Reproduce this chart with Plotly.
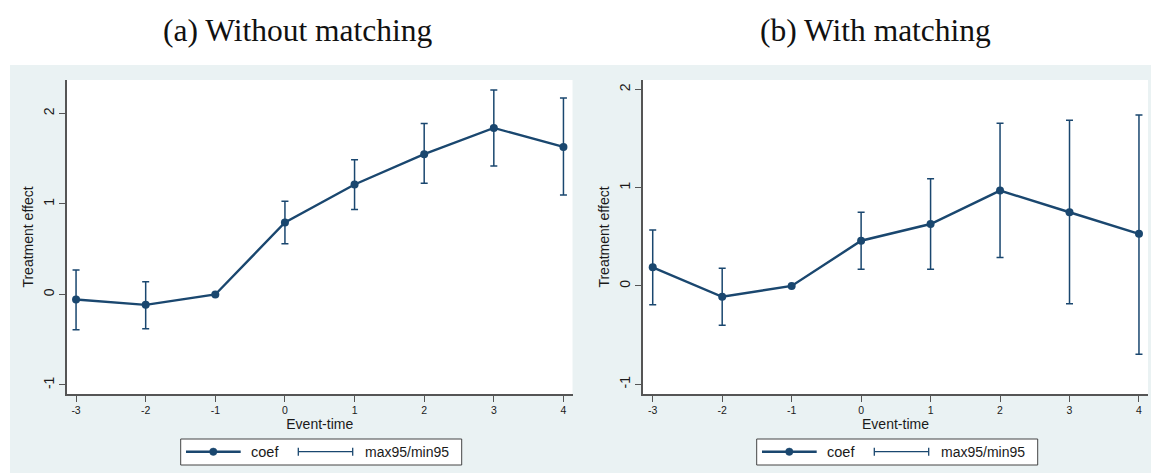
import plotly.graph_objects as go

# ---------------- data ----------------
event_time = [-3, -2, -1, 0, 1, 2, 3, 4]

coef_a = [-0.055, -0.115, 0.0, 0.795, 1.215, 1.55, 1.84, 1.63]
ci_hi_a = [0.27, 0.14, None, 1.03, 1.49, 1.89, 2.26, 2.17]
ci_lo_a = [-0.39, -0.38, None, 0.56, 0.94, 1.23, 1.42, 1.10]

coef_b = [0.19, -0.11, 0.0, 0.46, 0.63, 0.97, 0.75, 0.53]
ci_hi_b = [0.57, 0.18, None, 0.75, 1.09, 1.655, 1.685, 1.74]
ci_lo_b = [-0.19, -0.40, None, 0.17, 0.17, 0.29, -0.18, -0.695]

panel_titles = ["(a) Without matching", "(b) With matching"]
x_ticks = [-3, -2, -1, 0, 1, 2, 3, 4]
x_ticklabels = ["-3", "-2", "-1", "0", "1", "2", "3", "4"]
y_ticks = [-1, 0, 1, 2]
y_ticklabels = ["-1", "0", "1", "2"]
x_title = "Event-time"
y_title = "Treatment effect"
legend_labels = ["coef", "max95/min95"]

# ---------------- styles ----------------
W, H = 1151, 473
NAVY = "#1a476f"
BG = "#eaf2f3"
AXIS = "#555555"
TXT = "#1a1a1a"
SANS = "Liberation Sans, Arial, sans-serif"
SERIF = "Liberation Serif, Times New Roman, serif"


def px(x):
    return x / W


def py(y):
    return 1 - y / H


panels = [
    dict(coef=coef_a, hi=ci_hi_a, lo=ci_lo_a, x0=67, x1=572.5,
         xr=[-3.13, 4.13], yr=[-1.10, 2.37], title_cx=298, leg_dx=0),
    dict(coef=coef_b, hi=ci_hi_b, lo=ci_lo_b, x0=643, x1=1148,
         xr=[-3.14, 4.13], yr=[-1.099, 2.095], title_cx=875, leg_dx=576),
]
PLOT_TOP, PLOT_BOT = 80, 394

fig = go.Figure()
shapes = [dict(type="rect", xref="paper", yref="paper", x0=px(10), x1=1,
               y0=0, y1=py(65), fillcolor=BG, line=dict(width=0), layer="below")]
annotations = []

for i, p in enumerate(panels):
    k = "" if i == 0 else str(i + 1)
    err_up = [h - c if h is not None else None for h, c in zip(p["hi"], p["coef"])]
    err_dn = [c - l if l is not None else None for l, c in zip(p["lo"], p["coef"])]
    fig.add_trace(go.Scatter(
        x=event_time, y=p["coef"], mode="lines+markers", name=legend_labels[0],
        line=dict(color=NAVY, width=2.4), marker=dict(color=NAVY, size=8),
        error_y=dict(type="data", array=err_up, arrayminus=err_dn, symmetric=False,
                     color=NAVY, thickness=1.5, width=3.5),
        xaxis="x" + k, yaxis="y" + k, showlegend=False))

    fig.update_layout(**{
        "xaxis" + k: dict(domain=[px(p["x0"]), px(p["x1"])], range=p["xr"],
                          anchor="y" + k, tickvals=x_ticks, ticktext=x_ticklabels,
                          ticks="outside",
                          ticklen=6, tickcolor=AXIS, tickwidth=1, showline=True,
                          linecolor=AXIS, linewidth=1.5, showgrid=False, zeroline=False,
                          tickfont=dict(family=SANS, size=10.5, color=TXT),
                          title=dict(text=x_title, font=dict(family=SANS, size=14, color=TXT),
                                     standoff=0)),
        "yaxis" + k: dict(domain=[py(PLOT_BOT), py(PLOT_TOP)], range=p["yr"],
                          anchor="x" + k, tickvals=y_ticks, ticktext=y_ticklabels,
                          ticks="outside",
                          ticklen=6, tickcolor=AXIS, tickwidth=1, showline=True,
                          linecolor=AXIS, linewidth=1.5, showgrid=False, zeroline=False,
                          tickangle=-90,
                          tickfont=dict(family=SANS, size=14, color=TXT),
                          title=dict(text=y_title, font=dict(family=SANS, size=14, color=TXT),
                                     standoff=4)),
    })

    # white plot region
    shapes.append(dict(type="rect", xref="paper", yref="paper",
                       x0=px(p["x0"]), x1=px(p["x1"]), y0=py(PLOT_BOT), y1=py(PLOT_TOP),
                       fillcolor="white", line=dict(width=0), layer="below"))

    # panel title
    annotations.append(dict(text=panel_titles[i], x=px(p["title_cx"]), y=py(31),
                            xref="paper", yref="paper", showarrow=False,
                            xanchor="center", yanchor="middle",
                            font=dict(family=SERIF, size=31.5, color="#111111")))

    # legend box
    d = p["leg_dx"]
    ly = 451.7
    shapes.append(dict(type="rect", xref="paper", yref="paper",
                       x0=px(180.7 + d), x1=px(461.7 + d), y0=py(465), y1=py(439),
                       fillcolor="white", line=dict(color="#444444", width=1), layer="above"))
    shapes.append(dict(type="line", xref="paper", yref="paper",
                       x0=px(186 + d), x1=px(240.7 + d), y0=py(ly), y1=py(ly),
                       line=dict(color=NAVY, width=2.4), layer="above"))
    r = 3.7
    shapes.append(dict(type="circle", xref="paper", yref="paper",
                       x0=px(213.3 + d - r), x1=px(213.3 + d + r),
                       y0=py(ly + r), y1=py(ly - r),
                       fillcolor=NAVY, line=dict(color=NAVY, width=0.5), layer="above"))
    shapes.append(dict(type="line", xref="paper", yref="paper",
                       x0=px(298.3 + d), x1=px(352.7 + d), y0=py(ly), y1=py(ly),
                       line=dict(color=NAVY, width=1.3), layer="above"))
    for cx in (298.3, 352.7):
        shapes.append(dict(type="line", xref="paper", yref="paper",
                           x0=px(cx + d), x1=px(cx + d), y0=py(ly - 4), y1=py(ly + 4),
                           line=dict(color=NAVY, width=1.3), layer="above"))
    annotations.append(dict(text=legend_labels[0], x=px(249.3 + d), y=py(ly),
                            xref="paper", yref="paper", showarrow=False,
                            xanchor="left", yanchor="middle",
                            font=dict(family=SANS, size=14.5, color=TXT)))
    annotations.append(dict(text=legend_labels[1], x=px(362.7 + d), y=py(ly),
                            xref="paper", yref="paper", showarrow=False,
                            xanchor="left", yanchor="middle",
                            font=dict(family=SANS, size=14, color=TXT)))

fig.update_layout(width=W, height=H, margin=dict(l=0, r=0, t=0, b=0),
                  paper_bgcolor="white", plot_bgcolor="rgba(0,0,0,0)",
                  shapes=shapes, annotations=annotations, showlegend=False)

fig.write_html("out.html")
